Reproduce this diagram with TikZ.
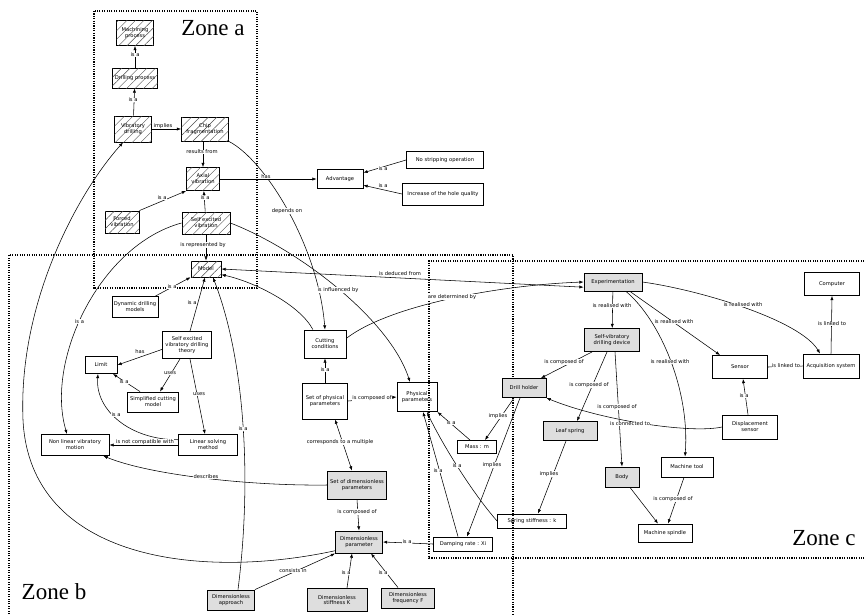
\documentclass[tikz,border=0pt]{standalone}
\usepackage{fontspec}
\newfontfamily\labfont{DejaVu Sans}
\newfontfamily\zonefont{Liberation Serif}
\usetikzlibrary{arrows.meta,patterns.meta}
\begin{document}
\begin{tikzpicture}[x=1pt,y=-1pt,
  box/.style={draw, line width=0.9pt, font=\labfont\fontsize{5.2}{5.9}\selectfont, align=center, inner sep=0.5pt, fill=white},
  hatch/.style={box, postaction={pattern={Lines[angle=45,distance=6pt,line width=0.4pt]}, pattern color=black!70}},
  grey/.style={box, fill=black!13},
  open/.style={box, fill=none},
  lbl/.style={font=\labfont\fontsize{5.2}{5.9}\selectfont, fill=white, inner sep=0.3pt},
  conn/.style={line width=0.55pt},
  arr/.style={conn, -{Latex[length=4.2pt,width=3.2pt]}},
  arrb/.style={conn, {Latex[length=4.2pt,width=3.2pt]}-{Latex[length=4.2pt,width=3.2pt]}},
  zoneline/.style={line width=1.1pt, dash pattern=on 1.1pt off 1.3pt},
  zonelbl/.style={font=\zonefont\fontsize{23}{24}\selectfont, inner sep=0pt}
]
\useasboundingbox (0,0) rectangle (864,614);

% zones
\draw[zoneline] (94,11) rectangle (257,288);
\draw[zoneline] (9,614) -- (9,255) -- (513,255) -- (513,614);
\draw[zoneline] (864,261) -- (429,261) -- (429,558) -- (864,558);
\node[zonelbl] (za) at (213,28) {Zone a};
\node[zonelbl] (zb) at (54,592) {Zone b};
\node[zonelbl] (zc) at (824,538) {Zone c};

% nodes
\node[hatch, minimum width=37pt, minimum height=25pt] (mach) at (135,33) {Machining\\process};
\node[hatch, minimum width=45pt, minimum height=20pt] (drill) at (135,78) {Drilling process};
\node[hatch, minimum width=37pt, minimum height=26pt] (vib) at (133,129) {Vibratory\\drilling};
\node[hatch, minimum width=47pt, minimum height=24pt] (chip) at (205,129) {Chip\\fragmentation};
\node[hatch, minimum width=33pt, minimum height=23pt] (axial) at (203,179) {Axial\\vibration};
\node[hatch, minimum width=34pt, minimum height=22pt] (forced) at (122,222) {Forced\\vibration};
\node[hatch, minimum width=48pt, minimum height=22pt] (sev) at (206,223) {Self excited\\vibration};
\node[hatch, minimum width=30pt, minimum height=16pt] (model) at (206,269) {Model};
\node[box, minimum width=46pt, minimum height=19pt] (adv) at (340,179) {Advantage};
\node[box, minimum width=77pt, minimum height=17pt] (nostrip) at (445,160) {No stripping operation};
\node[box, minimum width=81pt, minimum height=22pt] (hole) at (443,194) {Increase of the hole quality};
\node[box, minimum width=46pt, minimum height=21pt] (dyn) at (135,307) {Dynamic drilling\\models};
\node[box, minimum width=49pt, minimum height=27pt] (theory) at (187,345) {Self excited\\vibratory drilling\\theory};
\node[box, minimum width=32pt, minimum height=17pt] (limit) at (101,365) {Limit};
\node[box, minimum width=51pt, minimum height=20pt] (simp) at (153,402) {Simplified cutting\\model};
\node[box, minimum width=59pt, minimum height=21pt] (lin) at (208,445) {Linear solving\\method};
\node[box, minimum width=68pt, minimum height=21pt] (nonlin) at (75,445) {Non linear vibratory\\motion};
\node[box, minimum width=42pt, minimum height=28pt] (cut) at (325,344) {Cutting\\conditions};
\node[box, minimum width=45pt, minimum height=36pt] (setphys) at (325,401) {Set of physical\\parameters};
\node[open, minimum width=40pt, minimum height=29pt] (phys) at (417,397) {Physical\\parameters};
\node[grey, minimum width=59pt, minimum height=28pt] (setdim) at (357,485) {Set of dimensionless\\parameters};
\node[grey, minimum width=47pt, minimum height=22pt] (dimpar) at (359,542) {Dimensionless\\parameter};
\node[grey, minimum width=47pt, minimum height=20pt] (dimapp) at (231,600) {Dimensionless\\approach};
\node[grey, minimum width=60pt, minimum height=23pt] (dimstiff) at (337,600) {Dimensionless\\stiffness K};
\node[grey, minimum width=53pt, minimum height=20pt] (dimfreq) at (408,598) {Dimensionless\\frequency F};
\node[grey, minimum width=58pt, minimum height=18pt] (exp) at (613,282) {Experimentation};
\node[grey, minimum width=55pt, minimum height=23pt] (svdd) at (612,340) {Self-vibratory\\drilling device};
\node[grey, minimum width=44pt, minimum height=19pt] (holder) at (524,388) {Drill holder};
\node[grey, minimum width=54pt, minimum height=19pt] (leaf) at (570,431) {Leaf spring};
\node[grey, minimum width=34pt, minimum height=20pt] (body) at (622,477) {Body};
\node[box, minimum width=52pt, minimum height=20pt] (mtool) at (687,467) {Machine tool};
\node[box, minimum width=54pt, minimum height=18pt] (spindle) at (665,533) {Machine spindle};
\node[box, minimum width=39pt, minimum height=13pt] (mass) at (477,447) {Mass : m};
\node[box, minimum width=59pt, minimum height=14pt] (damp) at (463,544) {Damping rate : Xi};
\node[open, minimum width=69pt, minimum height=14pt] (spring) at (532,521) {Spring stiffness : k};
\node[box, minimum width=55pt, minimum height=24pt] (disp) at (750,427) {Displacement\\sensor};
\node[box, minimum width=55pt, minimum height=23pt] (sensor) at (740,367) {Sensor};
\node[box, minimum width=56pt, minimum height=24pt] (acq) at (831,366) {Acquisition system};
\node[box, minimum width=55pt, minimum height=23pt] (comp) at (832,284) {Computer};

% connectors zone a
\draw[arr] (drill) -- (mach);
\draw[arr] (vib) -- (drill);
\draw[arr] (vib) -- (chip);
\draw[arr] ([xshift=-2pt]chip.south) -- (axial.north);
\draw[arr] (forced.north east) -- (axial.south west);
\draw[arr] (sev) -- (axial);
\draw[arr] (sev) -- (model);
\draw[arr] (axial) -- (adv);
\draw[arr] (nostrip.west) -- (adv.15);
\draw[arr] (hole.west) -- (adv.-15);
\draw[arr] (chip.south east) .. controls (265,160) and (318,245) .. (cut.north);
\draw[arr] (sev.east) .. controls (300,250) and (390,320) .. ([xshift=-7pt]phys.north);

% zone b
\draw[arr] (dyn) -- (model);
\draw[arr] ([xshift=3pt]theory.north) -- ([xshift=-1pt]model.south);
\draw[arr] (dimapp.north) ++(7pt,0) .. controls (252,480) and (245,360) .. ([xshift=7pt]model.south);
\draw[arr] (theory.190) -- (limit.east);
\draw[arr] ([xshift=-7pt]theory.south) -- ([xshift=7pt]simp.north);
\draw[arr] ([xshift=-13pt]simp.north) -- ([xshift=12pt]limit.south);
\draw[arr] ([xshift=3pt]theory.south) -- ([xshift=-3pt]lin.north);
\draw[arr] (lin.170) .. controls (130,440) and (95,410) .. ([xshift=-3pt]limit.south);
\draw[arr] (lin.west) -- (nonlin.east);
\draw[arr] (setdim.west) .. controls (250,486) and (150,475) .. ([xshift=-6pt]nonlin.south east);
\draw[arr] (sev.west) .. controls (100,245) and (45,360) .. node[lbl, pos=0.55] (l21) {is a} ([xshift=-8pt]nonlin.north);
\draw[arr] (dimpar.200) .. controls (200,580) and (30,560) .. (23,420) .. controls (18,300) and (80,190) .. ([xshift=-10pt]vib.south);
\draw[arr] (dimapp.north east) -- (dimpar.south west);
\draw[arr] ([xshift=10pt]dimstiff.north) -- ([xshift=-7pt]dimpar.south);
\draw[arr] ([xshift=-10pt]dimfreq.north) -- ([xshift=12pt]dimpar.south);
\draw[arr] (damp.west) -- (dimpar.east);
\draw[arr] (setdim.south) -- (dimpar.north);
\draw[arrb] ([xshift=10pt]setphys.south) -- ([xshift=-5pt]setdim.north);
\draw[arr] (setphys) -- (cut);
\draw[arr] (setphys.east) -- (phys.west);
\draw[arr] (cut.130) .. controls (300,305) and (255,282) .. (model.-20);
\draw[arr] (cut.15) .. controls (390,305) and (500,285) .. (exp.west);
\draw[arrb] (model.east) -- (exp.190);

% zone c
\draw[arr] (exp) -- (svdd);
\draw[arr] (exp.east) .. controls (700,290) and (800,320) .. ([xshift=-11pt]acq.north);
\draw[arr] ([xshift=17pt]exp.south) -- ([xshift=-20pt]sensor.north);
\draw[arr] ([xshift=13pt]exp.south) .. controls (660,320) and (690,390) .. ([xshift=-2pt]mtool.north);
\draw[arr] ([xshift=-20pt]svdd.south) -- ([xshift=17pt]holder.north);
\draw[arr] ([xshift=-5pt]svdd.south) -- ([xshift=7pt]leaf.north);
\draw[arr] ([xshift=3pt]svdd.south) -- (body.north);
\draw[arr] (disp.west) .. controls (690,434) and (600,420) .. (holder.south east);
\draw[arr] ([xshift=-2pt]disp.north) -- ([xshift=3pt]sensor.south);
\draw[conn] (sensor.east) -- (acq.west);
\draw[arr] (acq.north) -- (comp.south);
\draw[arr] ([xshift=-4pt]leaf.south) -- ([xshift=6pt]spring.north);
\draw[arr] ([xshift=8pt]body.south) -- ([xshift=-7pt]spindle.north);
\draw[arr] ([xshift=-3pt]mtool.south) -- ([xshift=3pt]spindle.north);
\draw[arr] ([xshift=-10pt]holder.south) -- ([xshift=8pt]mass.north);
\draw[arr] ([xshift=-4pt]holder.south) -- ([xshift=4pt]damp.north);
\draw[arr] ([xshift=-7pt]mass.north) -- (phys.south east);
\draw[arr] ([xshift=-5pt]damp.north) -- ([xshift=6pt]phys.south);
\draw[arr] (spring.west) .. controls (470,490) and (440,440) .. ([xshift=10pt]phys.south);

% labels
\node[lbl] (l1) at (135,55) {is a};
\node[lbl] (l2) at (133,100) {is a};
\node[lbl] (l3) at (163,126) {implies};
\node[lbl] (l4) at (202,152) {results from};
\node[lbl] (l5) at (162,198) {is a};
\node[lbl] (l6) at (205,198) {is a};
\node[lbl] (l7) at (203,245) {is represented by};
\node[lbl] (l8) at (266,177) {has};
\node[lbl] (l9) at (287,211) {depends on};
\node[lbl] (l10) at (383,169) {is a};
\node[lbl] (l11) at (383,186) {is a};
\node[lbl] (l12) at (172,287) {is a};
\node[lbl] (l13) at (192,303) {is a};
\node[lbl] (l14) at (140,352) {has};
\node[lbl] (l15) at (170,373) {uses};
\node[lbl] (l16) at (124,382) {is a};
\node[lbl] (l17) at (199,394) {uses};
\node[lbl] (l18) at (116,415) {is a};
\node[lbl] (l19) at (145,442) {is not compatible with};
\node[lbl] (l20) at (206,477) {describes};
\node[lbl] (l22) at (243,429) {is a};
\node[lbl] (l23) at (400,274) {is deduced from};
\node[lbl] (l24) at (338,290) {is influenced by};
\node[lbl] (l25) at (452,297) {are determined by};
\node[lbl] (l26) at (325,370) {is a};
\node[lbl] (l27) at (372,398) {is composed of};
\node[lbl] (l28) at (340,442) {corresponds to a multiple};
\node[lbl] (l29) at (357,512) {is composed of};
\node[lbl] (l30) at (293,571) {consists in};
\node[lbl] (l31) at (346,573) {is a};
\node[lbl] (l32) at (383,573) {is a};
\node[lbl] (l33) at (407,542) {is a};
\node[lbl] (l34) at (451,423) {is a};
\node[lbl] (l35) at (498,416) {implies};
\node[lbl] (l36) at (492,465) {implies};
\node[lbl] (l37) at (438,471) {is a};
\node[lbl] (l38) at (457,466) {is a};
\node[lbl] (l39) at (612,306) {is realised with};
\node[lbl] (l40) at (564,362) {is composed of};
\node[lbl] (l41) at (589,385) {is composed of};
\node[lbl] (l42) at (617,407) {is composed of};
\node[lbl] (l43) at (630,424) {is connected to};
\node[lbl] (l44) at (549,474) {implies};
\node[lbl] (l45) at (673,499) {is composed of};
\node[lbl] (l46) at (743,305) {is realised with};
\node[lbl] (l47) at (674,322) {is realised with};
\node[lbl] (l48) at (670,362) {is realised with};
\node[lbl] (l49) at (744,396) {is a};
\node[lbl] (l50) at (786,366) {is linked to};
\node[lbl] (l51) at (832,324) {is linked to};
\end{tikzpicture}
\end{document}
